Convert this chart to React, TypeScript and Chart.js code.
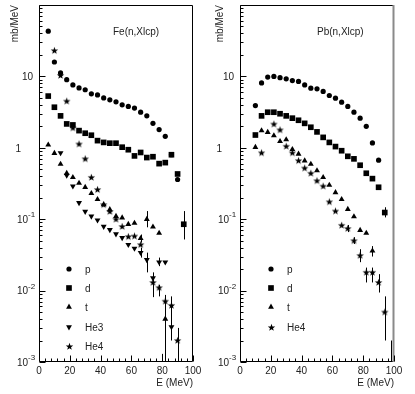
import React, { useEffect, useRef } from 'react';
import { Chart, registerables } from 'chart.js';

Chart.register(...registerables);

// ---------------- data ----------------
const energy = [6, 10, 14, 18, 22, 26, 30, 34, 38, 42, 46, 50, 54, 58, 62, 66, 70, 74, 78, 82, 86, 90, 94];

// Fe(n,Xlcp)
const feProton = [43, 15.9, 11.2, 9.0, 7.6, 6.9, 6.5, 5.7, 5.5, 5.0, 4.7, 4.4, 4.0, 3.8, 3.6, 3.15, 2.8, 2.2, 1.8, 1.45, 0.8, 0.36, null];
const feDeuteron = [5.3, 3.7, 2.8, 2.16, 2.09, 1.74, 1.6, 1.5, 1.26, 1.19, 1.16, 1.16, 1.02, 0.94, 0.77, 0.86, 0.73, 0.75, 0.6, 0.62, 0.8, 0.43, 0.085];
const feTriton = [1.1, 0.84, 0.59, 0.44, 0.385, 0.32, 0.28, 0.23, 0.19, 0.16, 0.137, 0.11, 0.105, 0.085, 0.088, 0.054, 0.1, 0.078, 0.064, 0.004, null, null, null];
const feHe3 = [null, null, 0.85, 0.41, 0.29, 0.17, 0.128, 0.11, 0.097, 0.079, 0.071, 0.062, 0.055, 0.044, 0.039, 0.034, 0.027, 0.015, 0.025, 0.025, 0.0031, null, null];
const feHe4 = [null, 23, 10.3, 4.5, 1.9, 1.13, 0.7, 0.385, 0.26, 0.16, 0.128, 0.1, 0.079, 0.057, 0.058, 0.044, null, 0.013, 0.011, 0.0071, 0.0062, 0.002, null];

const feErrEnergy = [66, 66, 70, 70, 74, 78, 78, 80, 82, 86, 90, 94];
const feErrLow = [0.047, 0.029, 0.077, 0.018, 0.0081, 0.022, 0.0083, 0.001, 0.001, 0.002, 0.001, 0.052];
const feErrHigh = [0.061, 0.04, 0.13, 0.034, 0.018, 0.029, 0.012, 0.0013, 0.0087, 0.0083, 0.003, 0.13];

// Pb(n,Xlcp)
const pbProton = [null, 3.9, 8.1, 9.8, 10.0, 9.6, 9.25, 8.75, 8.5, 7.6, 6.85, 6.7, 6.15, 5.4, 4.95, 4.35, 3.8, 3.15, 2.6, 2.0, 1.17, 0.67, null];
const pbDeuteron = [null, 1.51, 2.8, 3.15, 3.15, 3.0, 2.8, 2.6, 2.43, 2.2, 1.94, 1.67, 1.4, 1.19, 1.04, 0.91, 0.76, 0.7, 0.57, 0.44, 0.37, 0.28, 0.124];
const pbTriton = [null, 1.02, 1.74, 1.65, 1.48, 1.23, 1.3, 0.95, 0.82, 0.66, 0.59, 0.48, 0.385, 0.3, 0.237, 0.19, 0.138, 0.109, 0.07, 0.064, 0.036, null, null];
const pbHe4 = [null, null, 0.85, null, 2.15, 1.78, 1.05, 0.85, 0.66, 0.52, 0.44, 0.345, 0.29, 0.175, 0.13, 0.082, 0.074, 0.05, 0.031, 0.018, 0.018, 0.013, 0.005];

const pbErrEnergy = [70, 74, 78, 82, 86, 86, 90, 94, 94, 98.2];
const pbErrLow = [0.066, 0.045, 0.025, 0.013, 0.013, 0.03, 0.0094, 0.106, 0.002, 0.001];
const pbErrHigh = [0.083, 0.056, 0.038, 0.021, 0.021, 0.042, 0.017, 0.147, 0.0083, 0.002];

// axis labels
const yDecadeValues = [0.001, 0.01, 0.1, 1, 10];
const yDecadeBase = ['10', '10', '10', '1', '10'];
const yDecadeExp = ['-3', '-2', '-1', '', ''];
const xMin = 0;
const xMax = 100;
const xLabelStep = 20;
const xMinorStep = 4;
const yMin = 0.001;
const yMax = 100;

const FONT = "'Liberation Sans', Arial, Helvetica, sans-serif";
const INK = '#222';

type MarkerStyle = 'circle' | 'rect' | 'triUp' | 'triDown' | 'star';

let starCanvas: HTMLCanvasElement | null = null;
function getStar(): HTMLCanvasElement {
  if (starCanvas) return starCanvas;
  const c = document.createElement('canvas');
  c.width = 9;
  c.height = 9;
  const g = c.getContext('2d')!;
  g.fillStyle = '#000';
  g.beginPath();
  for (let k = 0; k < 10; k++) {
    const r = k % 2 === 0 ? 3.9 : 1.6;
    const a = -Math.PI / 2 + (k * Math.PI) / 5;
    const px = 4.5 + r * Math.cos(a);
    const py = 4.7 + r * Math.sin(a);
    if (k === 0) g.moveTo(px, py);
    else g.lineTo(px, py);
  }
  g.closePath();
  g.fill();
  starCanvas = c;
  return c;
}

const RADIUS: Record<MarkerStyle, number> = { circle: 2.6, rect: 4, triUp: 3.4, triDown: 3.4, star: 4 };

function drawMarker(ctx: CanvasRenderingContext2D, style: MarkerStyle, x: number, y: number) {
  ctx.fillStyle = '#000';
  if (style === 'star') {
    const s = getStar();
    ctx.drawImage(s, Math.round(x - s.width / 2), Math.round(y - s.height / 2));
    return;
  }
  ctx.beginPath();
  if (style === 'circle') {
    ctx.arc(x, y, RADIUS.circle, 0, Math.PI * 2);
  } else if (style === 'rect') {
    const s = Math.SQRT1_2 * RADIUS.rect;
    ctx.rect(x - s, y - s, 2 * s, 2 * s);
  } else {
    let rad = style === 'triDown' ? Math.PI : 0;
    const r = RADIUS.triUp;
    ctx.moveTo(x + Math.sin(rad) * r, y - Math.cos(rad) * r);
    rad += (2 * Math.PI) / 3;
    ctx.lineTo(x + Math.sin(rad) * r, y - Math.cos(rad) * r);
    rad += (2 * Math.PI) / 3;
    ctx.lineTo(x + Math.sin(rad) * r, y - Math.cos(rad) * r);
    ctx.closePath();
  }
  ctx.fill();
}

function makeDataset(label: string, values: (number | null)[], style: MarkerStyle) {
  const data = energy
    .map((e, i) => (values[i] == null ? null : { x: e, y: values[i] as number }))
    .filter((d) => d !== null);
  const ds: any = {
    label,
    data,
    showLine: false,
    backgroundColor: '#000',
    borderColor: '#000',
    pointBorderWidth: 0,
    pointRadius: RADIUS[style],
    pointHoverRadius: RADIUS[style],
    _marker: style,
  };
  if (style === 'circle') ds.pointStyle = 'circle';
  else if (style === 'rect') ds.pointStyle = 'rect';
  else if (style === 'triUp') ds.pointStyle = 'triangle';
  else if (style === 'triDown') {
    ds.pointStyle = 'triangle';
    ds.pointRotation = 180;
  } else ds.pointStyle = getStar();
  return ds;
}

type PanelProps = {
  left: number;
  width: number;
  yAxisWidth: number;
  padRight: number;
  title: string;
  titleDx: number;
  legendMarkerDx: number;
  legendTextDx: number;
  series: { label: string; values: (number | null)[]; style: MarkerStyle }[];
  errEnergy: number[];
  errLow: number[];
  errHigh: number[];
  rightEdgeGrey: boolean;
};

const LEGEND_ROWS = [264, 283, 302, 322, 341];

function Panel(props: PanelProps) {
  const ref = useRef<HTMLCanvasElement>(null);
  useEffect(() => {
    const canvas = ref.current!;
    const decor = {
      id: 'panelDecor',
      beforeDatasetsDraw(chart: any) {
        const ctx: CanvasRenderingContext2D = chart.ctx;
        const xs = chart.scales.x;
        const ys = chart.scales.y;
        ctx.save();
        ctx.strokeStyle = '#000';
        ctx.lineWidth = 1;
        for (let i = 0; i < props.errEnergy.length; i++) {
          const px = Math.round(xs.getPixelForValue(props.errEnergy[i])) + 0.5;
          const y1 = ys.getPixelForValue(Math.max(props.errLow[i], yMin));
          const y2 = ys.getPixelForValue(props.errHigh[i]);
          ctx.beginPath();
          ctx.moveTo(px, y1);
          ctx.lineTo(px, y2);
          ctx.stroke();
        }
        ctx.restore();
      },
      afterDraw(chart: any) {
        const ctx: CanvasRenderingContext2D = chart.ctx;
        const { left, right, top, bottom } = chart.chartArea;
        const xs = chart.scales.x;
        const ys = chart.scales.y;
        ctx.save();
        ctx.strokeStyle = '#000';
        ctx.lineWidth = 1;
        const L = Math.round(left) + 0.5;
        const R = Math.round(right) - 0.5;
        const T = Math.round(top) + 0.5;
        const B = Math.round(bottom) - 0.5;
        ctx.beginPath();
        ctx.moveTo(R, T);
        ctx.lineTo(L, T);
        ctx.lineTo(L, B);
        ctx.lineTo(R, B);
        if (!props.rightEdgeGrey) ctx.lineTo(R, T);
        ctx.stroke();
        if (props.rightEdgeGrey) {
          ctx.strokeStyle = '#8a8a8a';
          ctx.lineWidth = 2;
          ctx.beginPath();
          ctx.moveTo(R, T - 0.5);
          ctx.lineTo(R, B + 0.5);
          ctx.stroke();
          ctx.strokeStyle = '#000';
          ctx.lineWidth = 1;
        }
        // inward x ticks
        ctx.beginPath();
        for (let v = xMin; v <= xMax; v += xMinorStep) {
          const px = Math.round(xs.getPixelForValue(v)) + 0.5;
          const len = v % xLabelStep === 0 ? 6 : 3;
          ctx.moveTo(px, B);
          ctx.lineTo(px, B - len);
        }
        // inward y ticks (log)
        for (let d = -3; d <= 1; d++) {
          for (let m = 1; m <= 9; m++) {
            const v = m * Math.pow(10, d);
            const py = Math.round(ys.getPixelForValue(v)) + 0.5;
            const len = m === 1 ? 6 : 3;
            ctx.moveTo(L, py);
            ctx.lineTo(L + len, py);
          }
        }
        const pTop = Math.round(ys.getPixelForValue(yMax)) + 0.5;
        ctx.moveTo(L, pTop);
        ctx.lineTo(L + 6, pTop);
        ctx.stroke();

        // y tick labels with exponents
        ctx.fillStyle = INK;
        ctx.textBaseline = 'middle';
        for (let i = 0; i < yDecadeValues.length; i++) {
          const py = ys.getPixelForValue(yDecadeValues[i]);
          const base = yDecadeBase[i];
          const exp = yDecadeExp[i];
          ctx.font = `10px ${FONT}`;
          if (exp) {
            ctx.textAlign = 'right';
            ctx.fillText(base, left - 11, py + 1);
            ctx.font = `8px ${FONT}`;
            ctx.textAlign = 'left';
            ctx.fillText(exp, left - 11, py - 4);
          } else if (base === '1') {
            ctx.textAlign = 'right';
            ctx.fillText(base, left - 18, py + 1);
          } else {
            ctx.textAlign = 'right';
            ctx.fillText(base, left - 6, py + 1);
          }
        }

        // panel title
        ctx.font = `10px ${FONT}`;
        ctx.textAlign = 'left';
        ctx.fillText(props.title, left + props.titleDx, top + 27);

        // legend
        chart.data.datasets.forEach((ds: any, i: number) => {
          const y = top + LEGEND_ROWS[i];
          drawMarker(ctx, ds._marker, left + props.legendMarkerDx, y);
          ctx.fillStyle = INK;
          ctx.font = `10px ${FONT}`;
          ctx.textAlign = 'left';
          ctx.textBaseline = 'middle';
          ctx.fillText(ds.label, left + props.legendTextDx, y + 1);
        });
        ctx.restore();
      },
    };

    const chart = new Chart(canvas, {
      type: 'scatter',
      data: {
        datasets: props.series.map((s) => makeDataset(s.label, s.values, s.style)),
      },
      options: {
        responsive: false,
        animation: false,
        events: [],
        layout: { padding: { top: 5, right: props.padRight, left: 0, bottom: 0 } },
        plugins: { legend: { display: false }, tooltip: { enabled: false } },
        scales: {
          x: {
            type: 'linear',
            min: xMin,
            max: xMax,
            grid: { display: false, drawTicks: false },
            border: { display: false },
            ticks: {
              stepSize: xLabelStep,
              autoSkip: false,
              maxRotation: 0,
              padding: 3,
              color: INK,
              font: { family: FONT, size: 10 },
            },
            title: {
              display: true,
              text: 'E (MeV)',
              align: 'end',
              color: INK,
              font: { family: FONT, size: 10 },
              padding: { top: 0, bottom: 5 },
            },
            afterFit: (scale: any) => {
              scale.height = 32;
            },
          },
          y: {
            type: 'logarithmic',
            min: yMin,
            max: yMax,
            grid: { display: false, drawTicks: false },
            border: { display: false },
            ticks: { display: false },
            title: {
              display: true,
              text: 'mb/MeV',
              align: 'end',
              color: INK,
              font: { family: FONT, size: 10 },
              padding: { top: 9, bottom: 0 },
            },
            afterFit: (scale: any) => {
              scale.width = props.yAxisWidth;
            },
          },
        },
      } as any,
      plugins: [decor as any],
    });
    return () => chart.destroy();
  }, []);
  return (
    <canvas
      ref={ref}
      width={props.width}
      height={394}
      style={{ position: 'absolute', left: props.left, top: 0, width: props.width, height: 394 }}
    />
  );
}

export default function App() {
  return (
    <div style={{ position: 'absolute', left: 0, top: 0, width: 415, height: 394, background: '#fff', overflow: 'hidden' }}>
      <Panel
        left={0}
        width={205}
        yAxisWidth={39}
        padRight={12}
        title="Fe(n,Xlcp)"
        titleDx={74}
        legendMarkerDx={30}
        legendTextDx={46}
        series={[
          { label: 'p', values: feProton, style: 'circle' },
          { label: 'd', values: feDeuteron, style: 'rect' },
          { label: 't', values: feTriton, style: 'triUp' },
          { label: 'He3', values: feHe3, style: 'triDown' },
          { label: 'He4', values: feHe4, style: 'star' },
        ]}
        errEnergy={feErrEnergy}
        errLow={feErrLow}
        errHigh={feErrHigh}
        rightEdgeGrey={false}
      />
      <Panel
        left={205}
        width={210}
        yAxisWidth={35}
        padRight={21}
        title="Pb(n,Xlcp)"
        titleDx={77}
        legendMarkerDx={31}
        legendTextDx={47}
        series={[
          { label: 'p', values: pbProton, style: 'circle' },
          { label: 'd', values: pbDeuteron, style: 'rect' },
          { label: 't', values: pbTriton, style: 'triUp' },
          { label: 'He4', values: pbHe4, style: 'star' },
        ]}
        errEnergy={pbErrEnergy}
        errLow={pbErrLow}
        errHigh={pbErrHigh}
        rightEdgeGrey={true}
      />
    </div>
  );
}
